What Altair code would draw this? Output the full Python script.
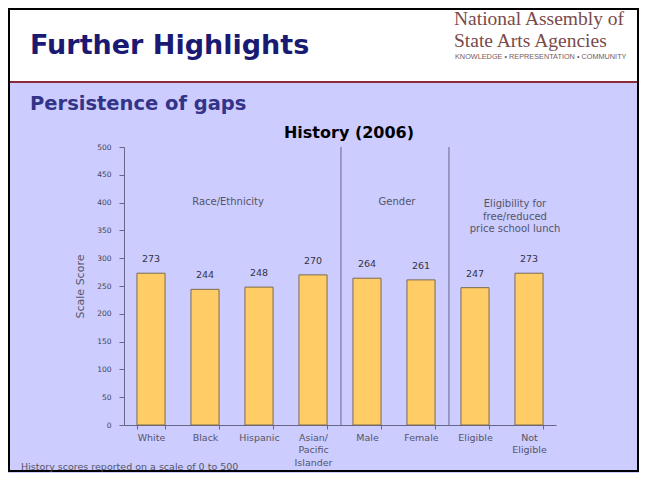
import altair as alt
import pandas as pd

# ---- data ----
categories = ["White", "Black", "Hispanic", "Asian/Pacific Islander",
              "Male", "Female", "Eligible", "Not Eligible"]
scores = [273, 244, 248, 270, 264, 261, 247, 273]
groups = ["Race/Ethnicity"] * 4 + ["Gender"] * 2 + ["Lunch"] * 2
separator_at = ["Male", "Eligible"]
y_ticks = [0, 50, 100, 150, 200, 250, 300, 350, 400, 450, 500]

header_title = ["Further Highlights"]
subtitle = ["Persistence of gaps"]
logo_lines = ["National Assembly of", "State Arts Agencies"]
logo_tag = ["KNOWLEDGE \u2022 REPRESENTATION \u2022 COMMUNITY"]
chart_title = ["History (2006)"]
race_label = ["Race/Ethnicity"]
gender_label = ["Gender"]
lunch_label = [["Eligibility for", "free/reduced", "price school lunch"]]
footnote = ["History scores reported on a scale of 0 to 500"]

df = pd.DataFrame({"category": categories, "score": scores, "group": groups})
sep_df = pd.DataFrame({"category": separator_at, "top": [500] * len(separator_at),
                       "bottom": [0] * len(separator_at)})

FONT = "DejaVu Sans"
BOLD = "DejaVu Sans"
GREY = "#555566"

x_enc = alt.X("category:N", sort=categories,
              scale=alt.Scale(paddingInner=0.48, paddingOuter=0.24),
              axis=alt.Axis(title=None, labelAngle=0, tickBand="extent", tickSize=4,
                            labelFontSize=9.5, labelColor=GREY, labelFont=FONT,
                            labelPadding=3, labelLineHeight=12.5,
                            domainColor="#666688", tickColor="#666688",
                            labelExpr="datum.label == 'Asian/Pacific Islander' ? ['Asian/', 'Pacific', 'Islander'] : datum.label == 'Not Eligible' ? ['Not', 'Eligible'] : datum.label"))
y_enc = alt.Y("score:Q", scale=alt.Scale(domain=[0, 500]),
              axis=alt.Axis(values=y_ticks, title="Scale Score", grid=False, tickSize=5,
                            labelFontSize=7.5, labelColor="#444455", labelFont=FONT,
                            labelPadding=8, labelOverlap=False,
                            titleFontSize=11, titleFontWeight="normal", titleColor=GREY,
                            titleFont=FONT, titlePadding=11,
                            domainColor="#666688", tickColor="#666688"))

def one(vals):
    return alt.Chart(pd.DataFrame({"t": vals}))

# header decorations
white_header = one([0]).mark_rect(color="white").encode(
    x=alt.value(-116), x2=alt.value(515), y=alt.value(-139), y2=alt.value(-65))
red_line = one([0]).mark_rule(color="#8b2a3a", strokeWidth=2).encode(
    x=alt.value(-116), x2=alt.value(515), y=alt.value(-65))
border = one([0]).mark_rect(filled=False, stroke="black", strokeWidth=2).encode(
    x=alt.value(-115), x2=alt.value(514), y=alt.value(-138), y2=alt.value(324))
title_txt = one(header_title).mark_text(font=BOLD, fontWeight="bold", fontSize=27,
                                        color="#1a1a73", align="left", baseline="middle").encode(
    text="t:N", x=alt.value(-94), y=alt.value(-101))
sub_txt = one(subtitle).mark_text(font=BOLD, fontWeight="bold", fontSize=19.5,
                                  color="#333388", align="left", baseline="middle").encode(
    text="t:N", x=alt.value(-94), y=alt.value(-43))
logo1 = one([logo_lines[0]]).mark_text(font="Liberation Serif", fontSize=19.5, color="#7a4a4a",
                                       align="left", baseline="middle").encode(
    text="t:N", x=alt.value(330), y=alt.value(-128))
logo2 = one([logo_lines[1]]).mark_text(font="Liberation Serif", fontSize=19.5, color="#7a4a4a",
                                       align="left", baseline="middle").encode(
    text="t:N", x=alt.value(330), y=alt.value(-106))
logo3 = one(logo_tag).mark_text(font="Liberation Sans", fontSize=7.3, color="#7a5a5a",
                                align="left", baseline="middle").encode(
    text="t:N", x=alt.value(331), y=alt.value(-90))
hist_title = one(chart_title).mark_text(font=BOLD, fontWeight="bold", fontSize=16,
                                        color="black", align="center", baseline="middle").encode(
    text="t:N", x=alt.value(225), y=alt.value(-14))

# chart content
bars = alt.Chart(df).mark_bar(color="#ffcc66", stroke="#7a6a50", strokeWidth=1).encode(
    x=x_enc, y=y_enc)
values = alt.Chart(df).mark_text(dy=-9, baseline="bottom", fontSize=9.5, font=FONT,
                                 color="#333344").encode(
    x=alt.X("category:N", sort=categories, axis=None),
    y=alt.Y("score:Q", axis=None), text="score:Q")
seps = alt.Chart(sep_df).mark_rule(color="#666688", strokeWidth=1, xOffset=-12).encode(
    x=alt.X("category:N", sort=categories, bandPosition=0, axis=None),
    y=alt.Y("top:Q", axis=None), y2="bottom:Q")

grp_style = dict(font=FONT, fontSize=10, color=GREY, align="center", baseline="middle",
                 lineHeight=12.5)
race = one(race_label).mark_text(**grp_style).encode(text="t:N", x=alt.value(104), y=alt.value(55))
gender = one(gender_label).mark_text(**grp_style).encode(text="t:N", x=alt.value(273), y=alt.value(55))
lunch = alt.Chart(pd.DataFrame({"t": [0]})).mark_text(text=lunch_label[0], **grp_style).encode(
    x=alt.value(391), y=alt.value(57))
foot = one(footnote).mark_text(font=FONT, fontSize=9.5, color=GREY, align="left",
                               baseline="middle").encode(text="t:N", x=alt.value(-103), y=alt.value(320))

chart = alt.layer(
    white_header, red_line, border, title_txt, sub_txt, logo1, logo2, logo3, hist_title,
    bars, values, seps, race, gender, lunch, foot
).resolve_axis(x="independent", y="independent").properties(
    width=432, height=278,
    autosize=alt.AutoSizeParams(type="none"),
    padding={"left": 116, "top": 139, "right": 83, "bottom": 48},
).configure(background="#ccccff").configure_view(stroke=None)

chart.save("out.html", embed_options={"renderer": "svg", "actions": False})
